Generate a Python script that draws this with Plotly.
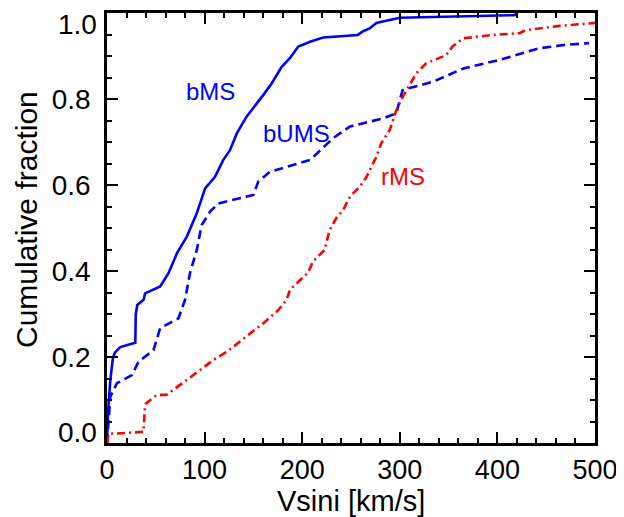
import plotly.graph_objects as go

# bMS (solid blue)
bms_x = [0, 1, 3.4, 6, 8, 13.6, 29, 29.5, 31, 37.5, 39, 54.5, 63, 71.6, 81.8, 92, 100.5, 110.7, 119, 126,
         133, 143, 160, 168.7, 179, 187.4, 196, 208, 221.5, 257, 262, 269, 276, 300, 417.5, 420]
bms_y = [0, 0.07, 0.147, 0.197, 0.21, 0.223, 0.233, 0.3, 0.321, 0.333, 0.348, 0.364, 0.395, 0.441, 0.48,
         0.534, 0.592, 0.619, 0.658, 0.681, 0.72, 0.759, 0.809, 0.836, 0.875, 0.895, 0.922, 0.933, 0.943,
         0.949, 0.957, 0.964, 0.977, 0.989, 0.995, 1.0]

# bUMS (dashed blue)
bums_x = [0, 1.5, 3.4, 10.2, 25.6, 32.3, 47.6, 54.5, 73.2, 80, 85, 92, 97, 105.6, 114, 150, 155, 167,
          208, 231.7, 249, 283, 296.5, 300, 303, 334, 354, 365, 402, 443, 470, 494]
bums_y = [0, 0.06, 0.108, 0.139, 0.158, 0.189, 0.216, 0.267, 0.29, 0.333, 0.395, 0.449, 0.507, 0.538,
          0.557, 0.577, 0.608, 0.631, 0.658, 0.709, 0.736, 0.755, 0.767, 0.798, 0.821, 0.84, 0.86,
          0.871, 0.891, 0.918, 0.926, 0.93]

# rMS (dash-dot red)
rms_x = [0, 1.7, 8.5, 37.4, 39, 40, 51, 61, 82, 95.4, 109, 122.7, 146.5, 162, 175.5, 184, 187.4, 206,
         211, 223, 228, 235, 242, 249, 259, 266, 276, 281, 289.7, 296.5, 303, 310, 317, 327, 347.6,
         354, 365, 395, 422.6, 429, 463.5, 500]
rms_y = [0, 0.022, 0.022, 0.026, 0.088, 0.092, 0.112, 0.112, 0.147, 0.17, 0.193, 0.212, 0.255, 0.282,
         0.309, 0.333, 0.356, 0.396, 0.422, 0.449, 0.495, 0.523, 0.542, 0.573, 0.596, 0.619, 0.666,
         0.697, 0.728, 0.774, 0.805, 0.833, 0.86, 0.883, 0.902, 0.922, 0.941, 0.949, 0.953, 0.96,
         0.97, 0.977]

labels = ["bMS", "bUMS", "rMS"]
label_x = [106, 194, 303]
label_y = [0.817, 0.72, 0.619]
label_colors = ["#0000ff", "#0000ff", "#ff0000"]

x_tickvals = [0, 100, 200, 300, 400, 500]
x_ticktext = ["0", "100", "200", "300", "400", "500"]
y_tickvals = [0, 0.2, 0.4, 0.6, 0.8, 1.0]
y_ticktext = ["0.0", "0.2", "0.4", "0.6", "0.8", "1.0"]

x_title = "Vsini [km/s]"
y_title = "Cumulative fraction"

FONT = "Liberation Sans, Arial, Helvetica, sans-serif"

fig = go.Figure()
fig.add_trace(go.Scatter(x=bms_x, y=bms_y, mode="lines", line=dict(color="#0000ff", width=2.6),
                         showlegend=False))
fig.add_trace(go.Scatter(x=bums_x, y=bums_y, mode="lines",
                         line=dict(color="#0000ff", width=2.6, dash="9px,5px"), showlegend=False))
fig.add_trace(go.Scatter(x=rms_x, y=rms_y, mode="lines",
                         line=dict(color="#ff0000", width=2.6, dash="8px,4px,2px,4px"), showlegend=False))

for t, lx, ly, c in zip(labels, label_x, label_y, label_colors):
    fig.add_annotation(x=lx, y=ly, text=t, showarrow=False, font=dict(size=24, color=c, family=FONT),
                       xanchor="center", yanchor="middle")

# end-of-axis y labels are nudged inward (as in the original), so draw them as annotations
inner_labels = [y_ticktext[0], y_ticktext[-1]]
inner_pos = [y_tickvals[0], y_tickvals[-1]]
inner_shift = [11, -11]
for t, yv, sh in zip(inner_labels, inner_pos, inner_shift):
    fig.add_annotation(x=0, y=yv, xref="paper", yref="y", text=t, showarrow=False,
                       xanchor="right", yanchor="middle", xshift=-8, yshift=sh,
                       font=dict(size=28, color="black", family=FONT))
y_ticktext_axis = [""] + y_ticktext[1:-1] + [""]

# axis titles
fig.add_annotation(x=0.5, y=0, xref="paper", yref="paper", text=x_title, showarrow=False,
                   xanchor="center", yanchor="middle", yshift=-58,
                   font=dict(size=29, color="black", family=FONT))
fig.add_annotation(x=0, y=0.5, xref="paper", yref="paper", text=y_title, showarrow=False,
                   textangle=-90, xanchor="center", yanchor="middle", xshift=-81, yshift=8,
                   font=dict(size=30, color="black", family=FONT))

axis_common = dict(
    showgrid=False, zeroline=False, showline=True, linecolor="black", linewidth=2.6,
    mirror="ticks", ticks="inside", ticklen=11, tickwidth=2, tickcolor="black",
    automargin=False, ticklabeloverflow="allow",
)
fig.update_xaxes(range=[0, 500], tickvals=x_tickvals, ticktext=x_ticktext,
                 tickfont=dict(size=27, color="black", family=FONT),
                 minor=dict(dtick=20, tick0=0, ticks="inside", ticklen=5, tickwidth=2, tickcolor="black"),
                 ticklabelstandoff=1, **axis_common)
fig.update_yaxes(range=[0, 1.0], tickvals=y_tickvals, ticktext=y_ticktext_axis,
                 tickfont=dict(size=28, color="black", family=FONT),
                 minor=dict(dtick=0.05, tick0=0, ticks="inside", ticklen=5, tickwidth=2, tickcolor="black"),
                 ticklabelstandoff=8, **axis_common)

# page body has an 8px default margin, so the figure is sized to fit the 624x517 window
fig.update_layout(width=616, height=509, margin=dict(l=99, r=29, t=5, b=74),
                  plot_bgcolor="white", paper_bgcolor="white", font=dict(family=FONT))
fig.write_html("out.html")
